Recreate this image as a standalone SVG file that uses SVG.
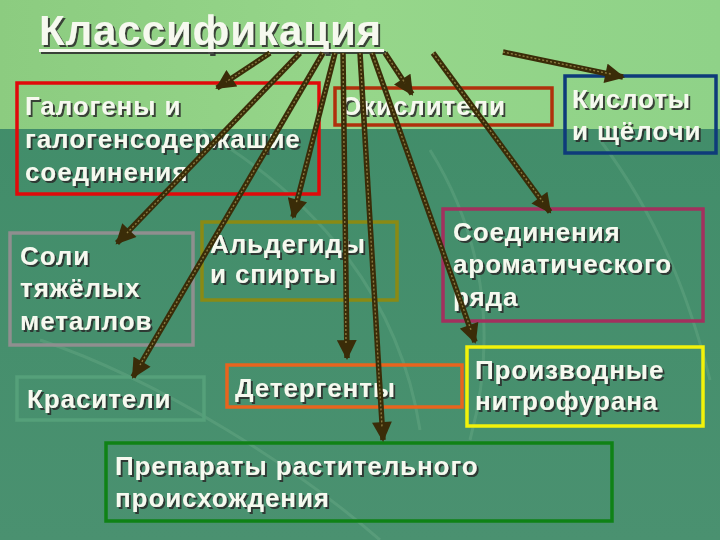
<svg xmlns="http://www.w3.org/2000/svg" width="720" height="540" viewBox="0 0 720 540">
  <defs>
    <linearGradient id="bgTop" x1="0" y1="0" x2="1" y2="0">
      <stop offset="0" stop-color="#8ccc80"/>
      <stop offset="0.5" stop-color="#96d68a"/>
      <stop offset="1" stop-color="#8fd288"/>
    </linearGradient>
    <linearGradient id="bgBot" x1="0" y1="0" x2="0" y2="1">
      <stop offset="0" stop-color="#3f8c68"/>
      <stop offset="1" stop-color="#4a9170"/>
    </linearGradient>
    <filter id="shadow" x="-10%" y="-30%" width="130%" height="170%">
      <feDropShadow dx="2" dy="2" stdDeviation="0.6" flood-color="#2a2a2a" flood-opacity="0.85"/>
    </filter>
    <marker id="head" viewBox="0 0 10 10" refX="9" refY="5" markerWidth="3.8" markerHeight="3.6" orient="auto" markerUnits="strokeWidth">
      <path d="M0,0 L10,5 L0,10 Z" fill="#3a2c08"/>
    </marker>
    <style>
      .lbl { font-family: "Liberation Sans", Arial, sans-serif; font-weight: bold; font-size: 26px; letter-spacing: 0.9px; fill: #f6f9ef; filter: url(#shadow); }
      .title { font-family: "Liberation Sans", Arial, sans-serif; font-weight: bold; font-size: 42px; letter-spacing: 0.9px; fill: #f6f9ef; filter: url(#shadow); }
      .box { fill: none; stroke-width: 3.5; }
      .shaft { fill: none; stroke: #3a2c08; stroke-width: 5.5; }
      .inner { fill: none; stroke: #8a7a40; stroke-width: 1.4; stroke-dasharray: 2 2; }
      .deco { fill: none; stroke: #b8e8c0; stroke-opacity: 0.13; stroke-width: 3; }
    </style>
  </defs>

  <!-- background -->
  <rect x="0" y="0" width="720" height="540" fill="url(#bgBot)"/>
  <rect x="0" y="0" width="720" height="129" fill="url(#bgTop)"/>
  <path class="deco" d="M200,130 C320,200 400,300 420,430"/>
  <path class="deco" d="M430,150 C480,230 500,330 470,440"/>
  <path class="deco" d="M40,340 C160,380 300,470 380,540"/>
  <path class="deco" d="M600,140 C660,220 690,300 710,380"/>

  <!-- title -->
  <g id="title">
    <text class="title" x="39" y="45">Классификация</text>
    <rect x="39" y="49" width="345" height="3" fill="#f6f9ef" filter="url(#shadow)"/>
  </g>

  <!-- nodes -->
  <g id="halogens">
    <rect class="box" x="17" y="83" width="302" height="111" stroke="#e00a0a"/>
    <text class="lbl" x="25" y="115">Галогены и</text>
    <text class="lbl" x="25" y="148">галогенсодержащие</text>
    <text class="lbl" x="25" y="181">соединения</text>
  </g>
  <g id="oxidizers">
    <rect class="box" x="335" y="88" width="217" height="37" stroke="#b0300c"/>
    <text class="lbl" x="341" y="115">Окислители</text>
  </g>
  <g id="acids">
    <rect class="box" x="565" y="76" width="151" height="77" stroke="#0e3b7a"/>
    <text class="lbl" x="572" y="108">Кислоты</text>
    <text class="lbl" x="572" y="140">и щёлочи</text>
  </g>
  <g id="salts">
    <rect class="box" x="10" y="233" width="183" height="112" stroke="#8f8f8f"/>
    <text class="lbl" x="20" y="265">Соли</text>
    <text class="lbl" x="20" y="297">тяжёлых</text>
    <text class="lbl" x="20" y="330">металлов</text>
  </g>
  <g id="aldehydes">
    <rect class="box" x="202" y="222" width="195" height="78" stroke="#8a8a14"/>
    <text class="lbl" x="210" y="253">Альдегиды</text>
    <text class="lbl" x="210" y="283">и спирты</text>
  </g>
  <g id="aromatic">
    <rect class="box" x="443" y="209" width="260" height="112" stroke="#a3305e"/>
    <text class="lbl" x="453" y="241">Соединения</text>
    <text class="lbl" x="453" y="273">ароматического</text>
    <text class="lbl" x="453" y="306">ряда</text>
  </g>
  <g id="dyes">
    <rect class="box" x="17" y="377" width="187" height="43" stroke="#55a07a" stroke-width="2.5"/>
    <text class="lbl" x="27" y="408">Красители</text>
  </g>
  <g id="detergents">
    <rect class="box" x="227" y="365" width="235" height="42" stroke="#e8641e"/>
    <text class="lbl" x="235" y="397">Детергенты</text>
  </g>
  <g id="nitrofuran">
    <rect class="box" x="467" y="347" width="236" height="79" stroke="#f2f20a"/>
    <text class="lbl" x="475" y="379">Производные</text>
    <text class="lbl" x="475" y="410">нитрофурана</text>
  </g>
  <g id="herbal">
    <rect class="box" x="106" y="443" width="506" height="78" stroke="#0f8216"/>
    <text class="lbl" x="115" y="475">Препараты растительного</text>
    <text class="lbl" x="115" y="507">происхождения</text>
  </g>

  <!-- connectors -->
  <g id="connectors">
    <g marker-end="url(#head)">
      <line class="shaft" x1="270" y1="53" x2="217" y2="88"/>
      <line class="shaft" x1="300" y1="53" x2="117" y2="243"/>
      <line class="shaft" x1="323" y1="53" x2="133" y2="377"/>
      <line class="shaft" x1="335" y1="53" x2="293" y2="217"/>
      <line class="shaft" x1="343" y1="53" x2="347" y2="358"/>
      <line class="shaft" x1="360" y1="53" x2="383" y2="440"/>
      <line class="shaft" x1="385" y1="53" x2="412" y2="94"/>
      <line class="shaft" x1="372" y1="53" x2="475" y2="342"/>
      <line class="shaft" x1="433" y1="53" x2="550" y2="212"/>
      <line class="shaft" x1="503" y1="52" x2="623" y2="77"/>
    </g>
    <line class="inner" x1="270" y1="53" x2="226" y2="82"/>
    <line class="inner" x1="300" y1="53" x2="127" y2="233"/>
    <line class="inner" x1="323" y1="53" x2="140" y2="365"/>
    <line class="inner" x1="335" y1="53" x2="296" y2="204"/>
    <line class="inner" x1="343" y1="53" x2="346" y2="345"/>
    <line class="inner" x1="360" y1="53" x2="382" y2="427"/>
    <line class="inner" x1="385" y1="53" x2="405" y2="83"/>
    <line class="inner" x1="372" y1="53" x2="471" y2="330"/>
    <line class="inner" x1="433" y1="53" x2="543" y2="202"/>
    <line class="inner" x1="503" y1="52" x2="611" y2="74"/>
  </g>
</svg>
